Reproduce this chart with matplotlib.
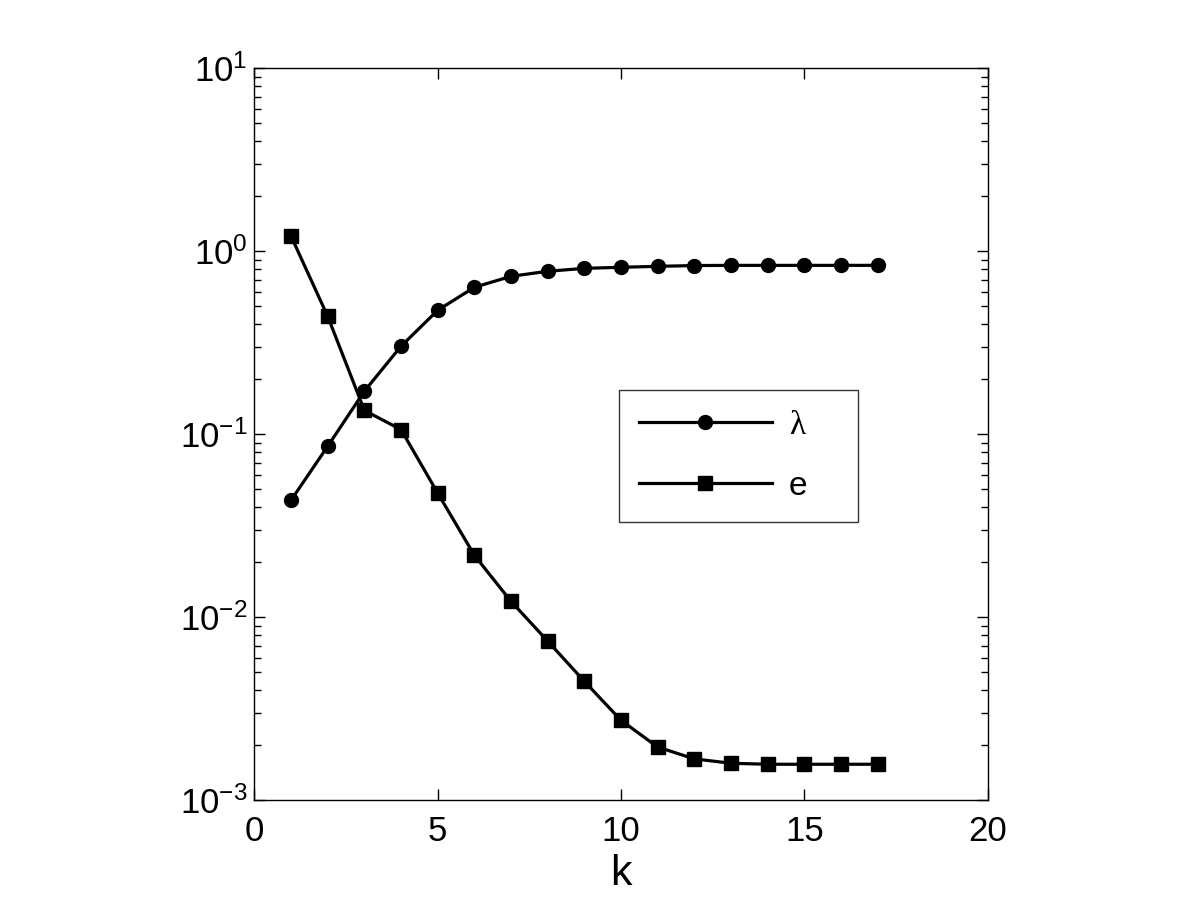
import matplotlib
matplotlib.use("Agg")
import matplotlib.pyplot as plt
from matplotlib.ticker import LogLocator, FixedLocator

plt.rcParams["font.family"] = ["Liberation Sans", "DejaVu Sans"]
plt.rcParams["mathtext.fontset"] = "custom"
plt.rcParams["mathtext.rm"] = "Liberation Sans"
plt.rcParams["mathtext.it"] = "Liberation Sans"

k = list(range(1, 18))
lam = [0.0436, 0.086, 0.172, 0.303, 0.476, 0.636, 0.73, 0.778, 0.807,
       0.818, 0.828, 0.836, 0.838, 0.838, 0.838, 0.838, 0.838]
err = [1.21, 0.441, 0.135, 0.106, 0.0477, 0.0218, 0.0122, 0.0074, 0.00446,
       0.00273, 0.00195, 0.00168, 0.00159, 0.00157, 0.00157, 0.00157, 0.00157]

fig = plt.figure(figsize=(12, 9), dpi=100)
ax = fig.add_axes([0.212, 0.111, 0.611, 0.813])

ax.plot(k, lam, "-o", color="black", lw=2.3, ms=10, label="λ")
ax.plot(k, err, "-s", color="black", lw=2.3, ms=9.5, label="e")

ax.set_yscale("log")
ax.set_xlim(0, 20)
ax.set_ylim(1e-3, 1e1)
ax.set_xticks([0, 5, 10, 15, 20])
ax.yaxis.set_major_locator(FixedLocator([1e-3, 1e-2, 1e-1, 1e0, 1e1]))
ax.yaxis.set_minor_locator(LogLocator(base=10, subs=range(2, 10), numticks=20))
ax.tick_params(which="both", direction="in", top=True, right=True,
               labelsize=25, width=1)
ax.tick_params(which="major", length=8)
ax.tick_params(which="minor", length=5)
ax.tick_params(axis="x", which="minor", bottom=False, top=False)
ax.tick_params(axis="x", which="major", pad=11)
ax.tick_params(axis="y", which="major", pad=5)
for s in ax.spines.values():
    s.set_linewidth(1)

ax.set_xlabel("k", fontsize=31, labelpad=4)

leg = ax.legend(loc="center", bbox_to_anchor=(0.497, 0.380, 0.326, 0.181),
                mode="expand", fontsize=24, handlelength=4, frameon=True,
                fancybox=False, edgecolor="black", borderpad=0.6,
                labelspacing=0.9, borderaxespad=0, handletextpad=0.5)
leg.get_frame().set_linewidth(1)
leg.get_texts()[0].set_family(["Liberation Serif", "DejaVu Serif"])

fig.savefig("out.png", dpi=100)
